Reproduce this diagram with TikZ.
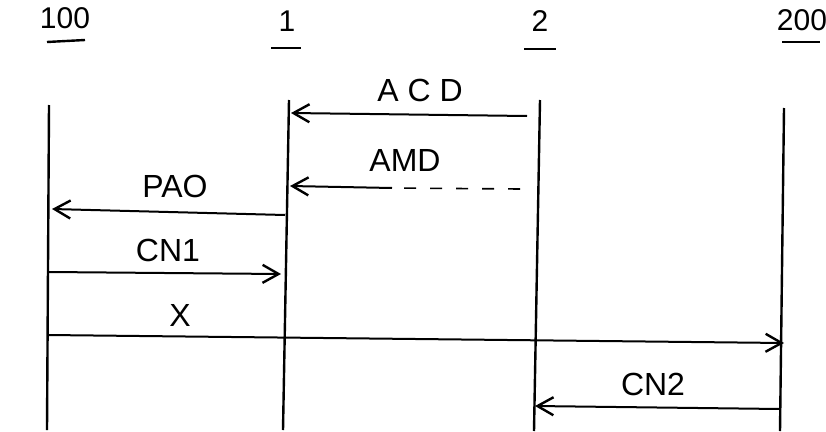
\documentclass[tikz,border=0pt]{standalone}
\usepackage{fontspec}
\setmainfont{Liberation Sans}
\usetikzlibrary{arrows.meta}
\begin{document}
\begin{tikzpicture}[x=1pt,y=-1pt,
  life/.style={line width=2.4pt},
  msg/.style={line width=2pt,-{Straight Barb[length=16pt,width=18pt,line width=2.4pt]}},
  lbl/.style={font=\fontsize{32}{34}\selectfont},
  hdr/.style={font=\fontsize{30}{32}\selectfont}]
\useasboundingbox (0,0) rectangle (826,431);
% headers
\node[hdr] (h100) at (65,18) {100};
\node[hdr] (h1) at (287,21) {1};
\node[hdr] (h2) at (540,21) {2};
\node[hdr] (h200) at (802,20) {200};
\draw[line width=2.4pt] (47,42) -- (85,40);
\draw[line width=2.4pt] (271,48) -- (301,48);
\draw[line width=2.4pt] (524,49) -- (556,49);
\draw[line width=2.4pt] (782,42) -- (820,42);
% lifelines
\coordinate (a0) at (49,105); \coordinate (a1) at (47,430);
\coordinate (b0) at (289,100); \coordinate (b1) at (283,430);
\coordinate (c0) at (540,100); \coordinate (c1) at (534,431);
\coordinate (d0) at (784,108); \coordinate (d1) at (780,431);
\draw[life] (a0) -- (a1);
\draw[life] (b0) -- (b1);
\draw[life] (c0) -- (c1);
\draw[life] (d0) -- (d1);
% ACD
\coordinate (acdS) at (527,116); \coordinate (acdE) at (291,113);
\draw[msg] (acdS) -- (acdE);
\node[lbl] (acd) at (420,90) {A C D};
% AMD
\coordinate (amdS) at (520,189); \coordinate (amdM) at (392,188); \coordinate (amdE) at (290,186);
\draw[line width=1.6pt,dash pattern=on 12pt off 14pt] (amdS) -- (amdM);
\draw[msg] (amdM) -- (amdE);
\node[lbl] (amd) at (405,160) {AMD};
% PAO
\coordinate (paoS) at (285,215); \coordinate (paoE) at (52,209);
\draw[msg] (paoS) -- (paoE);
\node[lbl] (pao) at (175,186) {PAO};
% CN1
\coordinate (cn1S) at (49,272); \coordinate (cn1E) at (281,274);
\draw[msg] (cn1S) -- (cn1E);
\node[lbl] (cn1) at (168,250) {CN1};
% X
\coordinate (xS) at (48,335); \coordinate (xE) at (784,343);
\draw[msg] (xS) -- (xE);
\node[lbl] (xl) at (180,315) {X};
% CN2
\coordinate (cn2S) at (780,409); \coordinate (cn2E) at (535,406);
\draw[msg] (cn2S) -- (cn2E);
\node[lbl] (cn2) at (653,384) {CN2};
\end{tikzpicture}
\end{document}
